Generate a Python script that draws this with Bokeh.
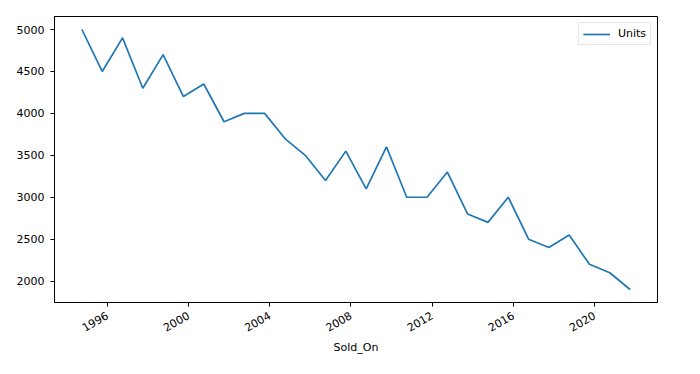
import math
import datetime as dt
from bokeh.plotting import figure
from bokeh.models import ColumnDataSource, Range1d, FixedTicker, DatetimeTickFormatter
from bokeh.embed import file_html
from bokeh.resources import INLINE

# Data
sold_on = ["1994-10-01", "1995-10-01", "1996-10-01", "1997-10-01", "1998-10-01",
           "1999-10-01", "2000-10-01", "2001-10-01", "2002-10-01", "2003-10-01",
           "2004-10-01", "2005-10-01", "2006-10-01", "2007-10-01", "2008-10-01",
           "2009-10-01", "2010-10-01", "2011-10-01", "2012-10-01", "2013-10-01",
           "2014-10-01", "2015-10-01", "2016-10-01", "2017-10-01", "2018-10-01",
           "2019-10-01", "2020-10-01", "2021-10-01"]
units = [5000, 4500, 4900, 4300, 4700, 4200, 4350, 3900, 4000, 4000,
         3700, 3500, 3200, 3550, 3100, 3600, 3000, 3000, 3300, 2800,
         2700, 3000, 2500, 2400, 2550, 2200, 2100, 1900]
x_tick_years = [1996, 2000, 2004, 2008, 2012, 2016, 2020]
y_ticks = [2000, 2500, 3000, 3500, 4000, 4500, 5000]

FONT = "DejaVu Sans"
C0 = "#1f77b4"

dates = [dt.datetime.strptime(d, "%Y-%m-%d") for d in sold_on]
src = ColumnDataSource(dict(Sold_On=dates, Units=units))

epoch = dt.datetime(1970, 1, 1)
def ms(d):
    return (d - epoch).total_seconds() * 1000.0

x0, x1 = ms(dates[0]), ms(dates[-1])
xpad = (x1 - x0) * 0.05
y0, y1 = min(units), max(units)
ypad = (y1 - y0) * 0.05

p = figure(width=692, height=366, x_axis_type="datetime",
           output_backend="svg", toolbar_location=None,
           x_range=Range1d(x0 - xpad, x1 + xpad),
           y_range=Range1d(y0 - ypad, y1 + ypad),
           min_border_left=54, min_border_right=35,
           min_border_top=16, min_border_bottom=64)

p.line("Sold_On", "Units", source=src, line_color=C0, line_width=1.7,
       legend_label="Units")

p.xgrid.visible = False
p.ygrid.visible = False
p.outline_line_color = "black"
p.outline_line_width = 1
p.background_fill_color = "white"
p.border_fill_color = "white"

p.xaxis.ticker = FixedTicker(ticks=[ms(dt.datetime(y, 1, 1)) for y in x_tick_years])
p.xaxis.formatter = DatetimeTickFormatter(years="%Y", months="%Y", days="%Y")
p.xaxis.major_label_orientation = math.pi / 6
p.yaxis.ticker = FixedTicker(ticks=y_ticks)
p.xaxis.minor_tick_line_color = None
p.yaxis.minor_tick_line_color = None

for ax in (p.xaxis[0], p.yaxis[0]):
    ax.axis_line_color = "black"
    ax.major_tick_line_color = "black"
    ax.major_tick_out = 4
    ax.major_tick_in = 0
    ax.major_label_text_font = FONT
    ax.major_label_text_font_size = "11px"
    ax.major_label_text_color = "black"
p.xaxis.major_label_standoff = 8
p.yaxis.major_label_standoff = 6

p.xaxis.axis_label = "Sold_On"
p.xaxis.axis_label_text_font = FONT
p.xaxis.axis_label_text_font_size = "11px"
p.xaxis.axis_label_text_font_style = "normal"
p.xaxis.axis_label_text_color = "black"
p.xaxis.axis_label_standoff = 3

lg = p.legend[0]
lg.location = "top_right"
lg.margin = 6
lg.padding = 4
lg.spacing = 0
lg.label_standoff = 8
lg.glyph_width = 27
lg.glyph_height = 12
lg.label_text_font = FONT
lg.label_text_font_size = "11px"
lg.label_text_color = "black"
lg.border_line_color = "#cccccc"
lg.border_line_width = 1
lg.background_fill_alpha = 0.8

open("out.html", "w").write(file_html(p, INLINE))
